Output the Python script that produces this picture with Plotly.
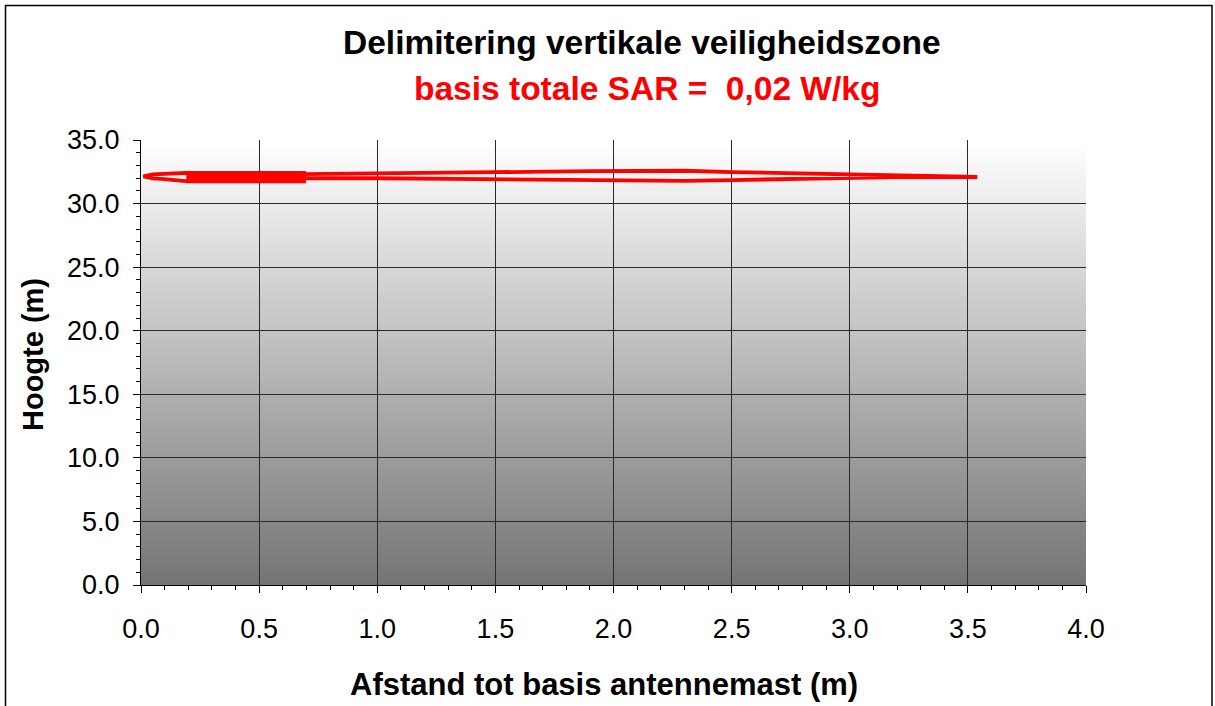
import base64
import plotly.graph_objects as go

# ---- data ----
curve_x = [3.54, 3.2, 3.0, 2.75, 2.5, 2.3, 2.07, 1.9, 1.5, 1.2, 1.01, 0.8, 0.69,
           0.69, 0.2, 0.2, 0.69, 0.69, 0.2, 0.2, 0.69, 0.69, 0.2,
           0.2, 0.15, 0.1, 0.05, 0.01, 0.05, 0.1, 0.15, 0.2,
           0.69, 0.69, 1.01, 1.5, 1.94, 2.3, 2.5, 2.75, 3.0, 3.2, 3.54]
curve_y = [32.09, 32.20, 32.27, 32.38, 32.48, 32.58, 32.58, 32.55, 32.47, 32.41, 32.38, 32.34, 32.32,
           32.42, 32.42, 32.28, 32.28, 32.14, 32.14, 32.0, 32.0, 31.87, 31.87,
           32.42, 32.40, 32.37, 32.30, 32.14, 31.98, 31.93, 31.85, 31.75,
           31.75, 31.99, 31.99, 31.90, 31.80, 31.78, 31.85, 31.95, 32.05, 32.08, 32.09]

x_ticks = [0.0, 0.5, 1.0, 1.5, 2.0, 2.5, 3.0, 3.5, 4.0]
x_ticklabels = ["0.0", "0.5", "1.0", "1.5", "2.0", "2.5", "3.0", "3.5", "4.0"]
y_ticks = [0.0, 5.0, 10.0, 15.0, 20.0, 25.0, 30.0, 35.0]
y_ticklabels = ["0.0", "5.0", "10.0", "15.0", "20.0", "25.0", "30.0", "35.0"]

title_main = "Delimitering vertikale veiligheidszone"
title_sub = "basis totale SAR =  0,02 W/kg"
x_title = "Afstand tot basis antennemast (m)"
y_title = "Hoogte (m)"

FONT = "Liberation Sans, Arial, sans-serif"

# ---- figure ----
fig = go.Figure()
fig.add_trace(go.Scatter(x=curve_x, y=curve_y, mode="lines",
                         line=dict(color="#ff0000", width=3.8),
                         hoverinfo="skip", showlegend=False))

# gradient background of plot area (white top -> gray bottom)
svg = ('<svg xmlns="http://www.w3.org/2000/svg" width="100" height="100" preserveAspectRatio="none">'
       '<defs><linearGradient id="g" x1="0" y1="0" x2="0" y2="1">'
       '<stop offset="0" stop-color="#ffffff"/><stop offset="1" stop-color="#747474"/>'
       '</linearGradient></defs><rect width="100" height="100" fill="url(#g)"/></svg>')
src = "data:image/svg+xml;base64," + base64.b64encode(svg.encode()).decode()
fig.add_layout_image(dict(source=src, xref="paper", yref="paper", x=0, y=1,
                          sizex=1, sizey=1, sizing="stretch", layer="below",
                          xanchor="left", yanchor="top"))

L, R, T, B = 141, 1086, 140, 585
W, H = 1215, 706
pw, ph = R - L, B - T

def px2x(px):
    return (px - L) / pw

def py2y(py):
    return (B - py) / ph

# outer border
fig.add_shape(type="rect", xref="paper", yref="paper",
              x0=px2x(5.5), x1=px2x(1212), y0=py2y(712), y1=py2y(5.5),
              line=dict(color="black", width=1.5), fillcolor="rgba(0,0,0,0)")

fig.add_annotation(text="<b>" + title_main + "</b>", xref="paper", yref="paper",
                   x=px2x(641.5), y=py2y(42), xanchor="center", yanchor="middle",
                   showarrow=False, font=dict(family=FONT, size=33.5, color="black"))
fig.add_annotation(text="<b>" + title_sub + "</b>", xref="paper", yref="paper",
                   x=px2x(646.5), y=py2y(88), xanchor="center", yanchor="middle",
                   showarrow=False, font=dict(family=FONT, size=33.5, color="#ff0000"))
fig.add_annotation(text="<b>" + x_title + "</b>", xref="paper", yref="paper",
                   x=px2x(603.5), y=py2y(684), xanchor="center", yanchor="middle",
                   showarrow=False, font=dict(family=FONT, size=31, color="black"))
fig.add_annotation(text="<b>" + y_title + "</b>", xref="paper", yref="paper",
                   x=px2x(33), y=py2y(355), xanchor="center", yanchor="middle",
                   textangle=-90, showarrow=False,
                   font=dict(family=FONT, size=29, color="black"))

fig.update_layout(
    width=W, height=H,
    margin=dict(l=L, r=W - R, t=T, b=H - B, pad=0),
    paper_bgcolor="white", plot_bgcolor="rgba(0,0,0,0)",
    font=dict(family=FONT, color="black"),
    showlegend=False,
)
fig.update_xaxes(range=[0, 4], tickvals=x_ticks, ticktext=x_ticklabels,
                 showgrid=True, gridcolor="#2a2a2a", gridwidth=1,
                 showline=True, linecolor="black", linewidth=1, zeroline=False,
                 ticks="outside", ticklen=7, tickcolor="black", tickwidth=1,
                 tickfont=dict(family=FONT, size=27, color="black"),
                 ticklabelstandoff=13,
                 minor=dict(dtick=0.1, tick0=0, ticks="outside", ticklen=4,
                            tickcolor="black", showgrid=False))
fig.update_yaxes(range=[0, 35], tickvals=y_ticks, ticktext=y_ticklabels,
                 showgrid=True, gridcolor="#2a2a2a", gridwidth=1,
                 showline=True, linecolor="black", linewidth=1, zeroline=False,
                 ticks="outside", ticklen=7, tickcolor="black", tickwidth=1,
                 tickfont=dict(family=FONT, size=27, color="black"),
                 ticklabelstandoff=8,
                 minor=dict(dtick=1, tick0=0, ticks="outside", ticklen=4,
                            tickcolor="black", showgrid=False))

fig.write_html("out.html", config={"displayModeBar": False, "staticPlot": True},
               post_script="document.body.style.margin='0';document.body.style.overflow='hidden';")
